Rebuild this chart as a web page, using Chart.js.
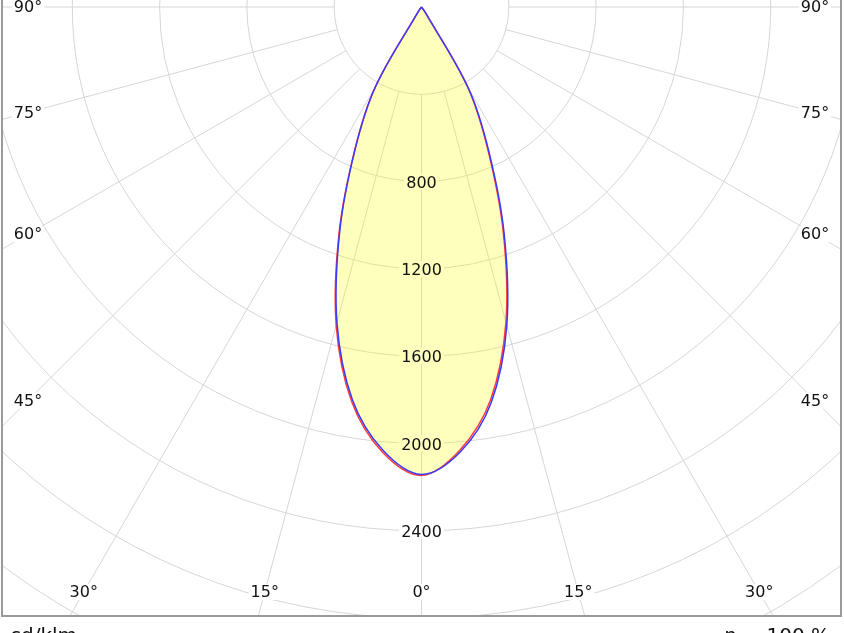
<!DOCTYPE html>
<html>
<head>
<meta charset="utf-8">
<script src="https://cdn.jsdelivr.net/npm/chart.js@4/dist/chart.umd.min.js"></script>
<style>
  html, body { margin: 0; padding: 0; background: #fff; }
  canvas { display: block; }
</style>
</head>
<body>
<canvas id="c" width="844" height="633"></canvas>
<script>
// 光强分布 (cd/klm)，左为负角度
var angles = [-90, -85, -80, -75, -70, -65, -60, -55, -50, -45, -40, -35, -30, -25, -20, -15, -10, -5,
  0, 5, 10, 15, 20, 25, 30, 35, 40, 45, 50, 55, 60, 65, 70, 75, 80, 85, 90];
// C0-C180
var redValues = [0, 0, 0, 0, 0, 0, 0, 0, 0, 0, 0, 30, 425, 725, 1105, 1510, 1838, 2048,
  2146, 2036, 1826, 1495, 1095, 718, 422, 28, 0, 0, 0, 0, 0, 0, 0, 0, 0, 0, 0];
// C90-C270
var blueValues = [0, 0, 0, 0, 0, 0, 0, 0, 0, 0, 0, 28, 422, 720, 1096, 1497, 1826, 2038,
  2142, 2046, 1840, 1510, 1108, 730, 430, 32, 0, 0, 0, 0, 0, 0, 0, 0, 0, 0, 0];

var ringValues = [400, 800, 1200, 1600, 2000, 2400, 2800, 3200, 3600, 4000];
var ringLabels = [800, 1200, 1600, 2000, 2400];
var spokeAngles = [-90, -75, -60, -45, -30, -15, 0, 15, 30, 45, 60, 75, 90];
var unitText = 'cd/klm';
var effText = 'η = 100 %';

// 画面比例：400 cd ≈ 87.3 px，极点在绘图区顶部下方 7 px
var PX = 87.3 / 400;
var X_HALF = 418.5 / PX;
var Y_MAX = 7 / PX;
var Y_MIN = -608 / PX;
var FONT = '16px "DejaVu Sans", sans-serif';

function toXY(vals) {
  return angles.map(function(a, i) {
    var t = a * Math.PI / 180;
    return { x: vals[i] * Math.sin(t), y: -vals[i] * Math.cos(t) };
  });
}

function labelBox(ctx, text, x, y) {
  var w = ctx.measureText(text).width;
  ctx.fillRect(x - w / 2 - 2, y - 8, w + 4, 16);
}

var polarGrid = {
  id: 'polarGrid',
  beforeDatasetsDraw: function(chart) {
    var ctx = chart.ctx, a = chart.chartArea;
    var sx = chart.scales.x, sy = chart.scales.y;
    var cx = sx.getPixelForValue(0), cy = sy.getPixelForValue(0);
    var k = sx.getPixelForValue(1000) - cx;
    ctx.save();
    ctx.beginPath(); ctx.rect(a.left, a.top, a.right - a.left, a.bottom - a.top); ctx.clip();
    ctx.strokeStyle = '#d6d6d6';
    ctx.lineWidth = 1;
    ringValues.forEach(function(v) {
      ctx.beginPath();
      ctx.arc(cx, cy, v * k / 1000, 0, Math.PI * 2);
      ctx.stroke();
    });
    var r0 = ringValues[0] * k / 1000, r1 = 2000;
    spokeAngles.forEach(function(d) {
      var t = d * Math.PI / 180;
      ctx.beginPath();
      ctx.moveTo(cx + r0 * Math.sin(t), cy + r0 * Math.cos(t));
      ctx.lineTo(cx + r1 * Math.sin(t), cy + r1 * Math.cos(t));
      ctx.stroke();
    });
    // 刻度文字底色，挡住网格线
    ctx.font = FONT;
    ctx.fillStyle = '#fff';
    ringLabels.forEach(function(v) {
      labelBox(ctx, String(v), cx, cy + v * k / 1000);
    });
    ctx.restore();
  },
  afterDatasetsDraw: function(chart) {
    var ctx = chart.ctx, a = chart.chartArea;
    var sx = chart.scales.x, sy = chart.scales.y;
    var cx = sx.getPixelForValue(0), cy = sy.getPixelForValue(0);
    var k = sx.getPixelForValue(1000) - cx;
    ctx.save();
    ctx.font = FONT;
    ctx.textAlign = 'center';
    ctx.textBaseline = 'middle';
    ctx.fillStyle = '#111';
    ringLabels.forEach(function(v) {
      ctx.fillText(String(v), cx, cy + v * k / 1000 + 2);
    });
    // 角度标注
    spokeAngles.forEach(function(d) {
      var t = Math.abs(d) * Math.PI / 180, x, y;
      if (Math.abs(d) >= 45) {
        x = d < 0 ? a.left + 25 : a.right - 25;
        y = cy + (d === 90 || d === -90 ? 0 : Math.abs(x - cx) / Math.tan(t));
      } else {
        y = a.bottom - 23;
        x = cx + (d < 0 ? -1 : 1) * (y - cy) * Math.tan(t);
      }
      var txt = Math.abs(d) + '°';
      ctx.fillStyle = '#fff';
      labelBox(ctx, txt, x, y);
      ctx.fillStyle = '#111';
      ctx.fillText(txt, x, y + 1);
    });
    // 边框
    ctx.strokeStyle = '#9a9a9a';
    ctx.lineWidth = 2;
    ctx.beginPath();
    ctx.moveTo(a.left - 1, a.top);
    ctx.lineTo(a.left - 1, a.bottom + 1);
    ctx.lineTo(a.right + 1, a.bottom + 1);
    ctx.lineTo(a.right + 1, a.top);
    ctx.stroke();
    ctx.font = '20px "DejaVu Sans", sans-serif';
    ctx.textBaseline = 'alphabetic';
    ctx.fillStyle = '#111';
    ctx.textAlign = 'left';
    ctx.fillText(unitText, 10, 642);
    ctx.textAlign = 'right';
    ctx.fillText(effText, 830, 642);
    ctx.restore();
  }
};

new Chart(document.getElementById('c'), {
  type: 'scatter',
  data: {
    datasets: [
      {
        label: 'C90-C270',
        data: toXY(blueValues),
        showLine: true,
        tension: 0.35,
        borderColor: '#3a3aff',
        borderWidth: 1.5,
        pointRadius: 0,
        fill: false
      },
      {
        label: 'C0-C180',
        data: toXY(redValues),
        showLine: true,
        tension: 0.35,
        borderColor: '#ff3a3a',
        backgroundColor: 'rgba(255,255,0,0.26)',
        borderWidth: 1.5,
        pointRadius: 0,
        fill: 'shape'
      }
    ]
  },
  options: {
    responsive: false,
    animation: false,
    layout: { padding: { left: 3, right: 4, top: 0, bottom: 18 } },
    plugins: { legend: { display: false }, tooltip: { enabled: false } },
    scales: {
      x: { type: 'linear', display: false, min: -X_HALF, max: X_HALF },
      y: { type: 'linear', display: false, min: Y_MIN, max: Y_MAX }
    }
  },
  plugins: [polarGrid]
});
</script>
</body>
</html>
